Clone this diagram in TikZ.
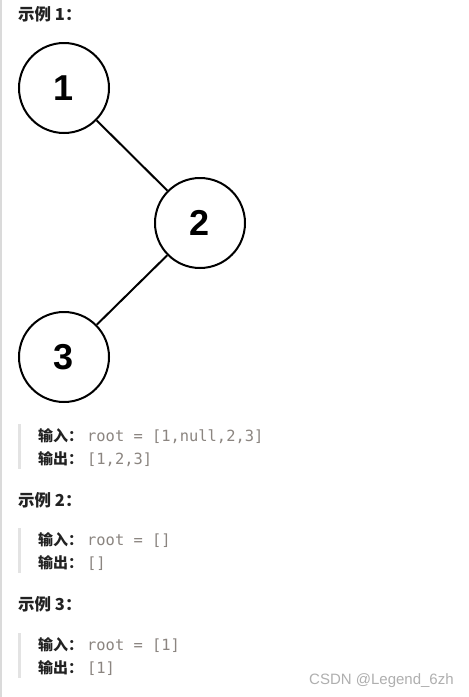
\documentclass[tikz,border=0pt]{standalone}
\usepackage{fontspec}
\setmainfont{Liberation Sans}
\newfontfamily\cjkfont{Noto Sans CJK SC}
\newfontfamily\monofont{DejaVu Sans Mono}
\definecolor{codegray}{HTML}{8B8580}
\definecolor{barcol}{HTML}{E3E3E3}
\definecolor{bordercol}{HTML}{DADADA}
\definecolor{marktext}{HTML}{AFAFAF}
\definecolor{headtext}{HTML}{222222}
\begin{document}
\begin{tikzpicture}[x=1pt,y=-1pt,
  treenode/.style={circle,draw=black,line width=2pt,minimum size=90pt,inner sep=0pt,
    font=\fontsize{36}{36}\selectfont\bfseries},
  titletext/.style={anchor=base west,inner sep=0pt,
    font=\fontsize{16.5}{16.5}\selectfont\cjkfont\bfseries,text=headtext},
  lbltext/.style={anchor=base west,inner sep=0pt,
    font=\fontsize{15}{15}\selectfont\cjkfont\bfseries,text=headtext},
  codetext/.style={anchor=base west,inner sep=0pt,
    font=\fontsize{15.4}{15.4}\selectfont\monofont,text=codegray},
  quotebar/.style={draw=barcol,line width=2.5pt},
  treeedge/.style={line width=2pt},
  marktextstyle/.style={anchor=base west,inner sep=0pt,
    font=\fontsize{15}{15}\selectfont,text=marktext}]
\useasboundingbox (0,0) rectangle (469,697);
\fill[white] (0,0) rectangle (469,697);
\fill[bordercol] (0,0) rectangle (2,697);

% example 1
\node[titletext] (t1) at (18,20.5) {示例 1：};
\node[treenode] (n1) at (64,88) {1};
\node[treenode] (n2) at (200,223) {2};
\node[treenode] (n3) at (64,357) {3};
\draw[treeedge] (n1) -- (n2);
\draw[treeedge] (n2) -- (n3);

\draw[quotebar] (19.25,424) -- (19.25,469);
\node[lbltext] (in1) at (38,441.5) {输入：};
\node[codetext] (ci1) at (87,441.5) {root = [1,null,2,3]};
\node[lbltext] (out1) at (38,464) {输出：};
\node[codetext] (co1) at (87,464) {[1,2,3]};

% example 2
\node[titletext] (t2) at (18,506) {示例 2：};
\draw[quotebar] (19.25,528) -- (19.25,573);
\node[lbltext] (in2) at (38,545.5) {输入：};
\node[codetext] (ci2) at (87,545.5) {root = []};
\node[lbltext] (out2) at (38,568) {输出：};
\node[codetext] (co2) at (87,568) {[]};

% example 3
\node[titletext] (t3) at (18,610.5) {示例 3：};
\draw[quotebar] (19.25,633) -- (19.25,678);
\node[lbltext] (in3) at (38,650.5) {输入：};
\node[codetext] (ci3) at (87,650.5) {root = [1]};
\node[lbltext] (out3) at (38,673) {输出：};
\node[codetext] (co3) at (87,673) {[1]};

\node[marktextstyle] (wm) at (309,684) {CSDN @Legend\_6zh};
\end{tikzpicture}
\end{document}
